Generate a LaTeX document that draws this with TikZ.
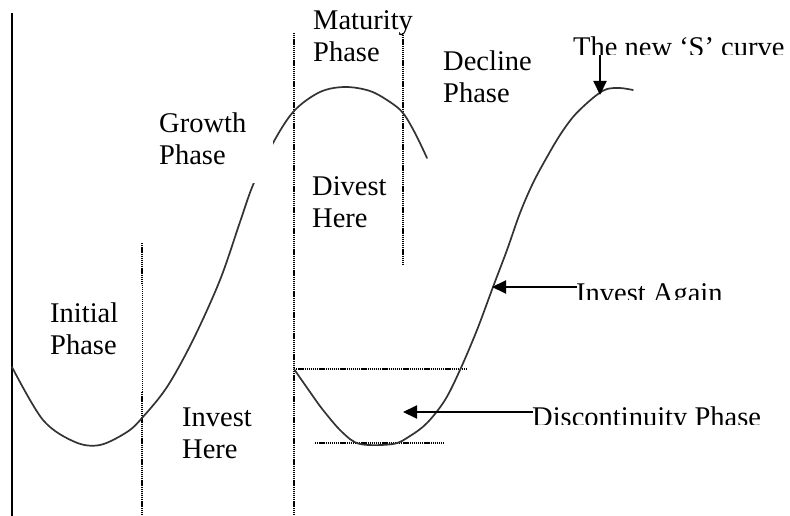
\documentclass[tikz,border=0pt]{standalone}
\usepackage{fontspec}
\setmainfont{Liberation Serif}
\usetikzlibrary{arrows.meta}
\begin{document}
\begin{tikzpicture}[x=1pt,y=-1pt,
  lbl/.style={anchor=base west, inner sep=0pt, font=\fontsize{28.5}{32}\selectfont},
  dotline/.style={line width=1.7pt, dash pattern=on 1.3pt off 0.8pt},
  thinline/.style={line width=1pt, dash pattern=on 1.2pt off 0.8pt},
  scurve/.style={line width=1.7pt, draw=black!80, line join=round, line cap=round},
  arr/.style={line width=2pt, -{Triangle[length=14pt,width=13pt]}}]
\useasboundingbox (0,0) rectangle (790,516);
\fill[white] (0,0) rectangle (790,516);

% axis
\coordinate (axT) at (12,13);
\coordinate (axB) at (12,516);
\draw[line width=1.5pt] (axT) -- (axB);

% dotted guides
\coordinate (d1a) at (142,243); \coordinate (d1b) at (142,285);
\coordinate (d1c) at (142,392); \coordinate (d1d) at (142,516);
\draw[dotline] (d1a) -- (d1b);
\draw[thinline] (d1b) -- (d1c);
\draw[dotline] (d1c) -- (d1d);
\coordinate (d2a) at (294,33); \coordinate (d2b) at (294,516);
\draw[dotline] (d2a) -- (d2b);
\coordinate (d3a) at (403,33); \coordinate (d3b) at (403,265);
\draw[dotline] (d3a) -- (d3b);
\coordinate (h1a) at (294,369); \coordinate (h1b) at (467,369);
\draw[dotline] (h1a) -- (h1b);
\coordinate (h2a) at (315,443); \coordinate (h2b) at (445,443);
\draw[dotline] (h2a) -- (h2b);

% first curve
\draw[scurve] plot[smooth, tension=0.55] coordinates {
  (12,367) (43,420) (75,442) (100,445) (127,432) (142,418) (167,387)
  (193,340) (220,280) (240,222) (253,185) (273,143) (294,111) (320,92)
  (345,87) (370,91) (390,102) (403,113) (415,133) (427,158)};

% second curve
\draw[scurve] plot[smooth, tension=0.55] coordinates {
  (294,369) (310,392) (323,410) (342,432) (360,444) (393,444) (410,436)
  (427,423) (445,400) (460,370) (477,330) (493,287) (507,250) (520,213)
  (533,183) (547,157) (560,135) (573,117) (586,104) (598,94) (607,89)
  (620,88) (633,90)};

% label background hiding the curve
\fill[white] (143,100) rectangle (273,183);

% labels
\node[lbl] (maturity) at (313,30) {\begin{tabular}[t]{@{}l@{}}Maturity\\Phase\end{tabular}};
\node[lbl] (decline) at (443,71) {\begin{tabular}[t]{@{}l@{}}Decline\\Phase\end{tabular}};
\node[lbl] (growth) at (159,133) {\begin{tabular}[t]{@{}l@{}}Growth\\Phase\end{tabular}};
\node[lbl] (divest) at (312,196) {\begin{tabular}[t]{@{}l@{}}Divest\\Here\end{tabular}};
\node[lbl] (initial) at (50,322) {\begin{tabular}[t]{@{}l@{}}Initial\\Phase\end{tabular}};
\node[lbl] (investhere) at (182,426) {\begin{tabular}[t]{@{}l@{}}Invest\\Here\end{tabular}};

\begin{scope}
  \clip (560,25) rectangle (790,55);
  \node[lbl] (newS) at (573,57) {The new ‘S’ curve};
\end{scope}
\begin{scope}
  \clip (560,270) rectangle (780,299);
  \node[lbl] (again) at (576,302) {Invest Again};
\end{scope}
\begin{scope}
  \clip (520,395) rectangle (790,424);
  \node[lbl] (discont) at (532,426) {Discontinuity Phase};
\end{scope}

% arrows
\coordinate (sT) at (600,55);  \coordinate (sH) at (600,95);
\coordinate (aT) at (577,287); \coordinate (aH) at (492,287);
\coordinate (cT) at (533,412); \coordinate (cH) at (403,412);
\draw[arr] (sT) -- (sH);
\draw[arr] (aT) -- (aH);
\draw[arr] (cT) -- (cH);
\end{tikzpicture}
\end{document}
